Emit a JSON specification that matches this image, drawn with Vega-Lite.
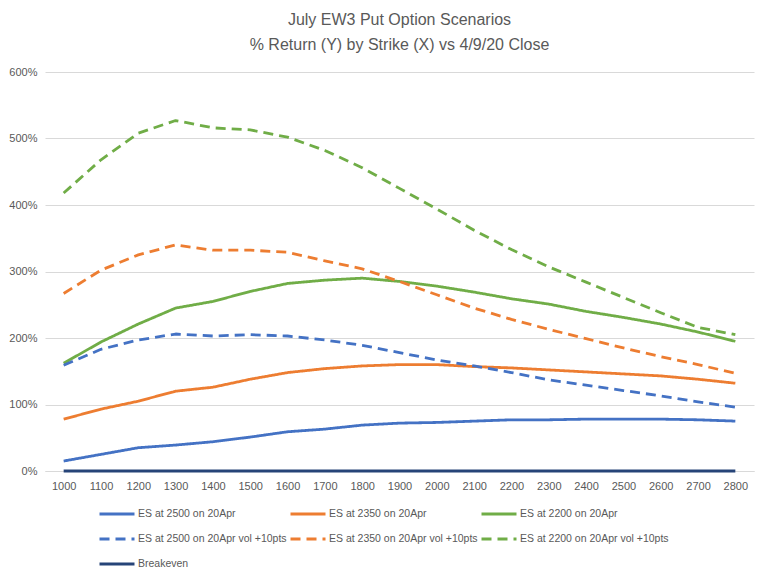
{
  "$schema": "https://vega.github.io/schema/vega-lite/v6.json",
  "width": 709,
  "height": 399,
  "autosize": {"type": "none"},
  "padding": {"left": 45, "top": 72, "right": 14, "bottom": 105},
  "background": "white",
  "title": {
    "text": ["July EW3 Put Option Scenarios", "% Return (Y) by Strike (X) vs 4/9/20 Close"],
    "font": "Liberation Sans",
    "fontSize": 16,
    "fontWeight": "normal",
    "color": "#595959",
    "anchor": "middle",
    "offset": 13,
    "lineHeight": 25
  },
  "data": {
    "values": [
      {"x": 1000, "s": "ES at 2500 on 20Apr", "y": 15},
      {"x": 1100, "s": "ES at 2500 on 20Apr", "y": 25},
      {"x": 1200, "s": "ES at 2500 on 20Apr", "y": 35},
      {"x": 1300, "s": "ES at 2500 on 20Apr", "y": 39},
      {"x": 1400, "s": "ES at 2500 on 20Apr", "y": 44},
      {"x": 1500, "s": "ES at 2500 on 20Apr", "y": 51},
      {"x": 1600, "s": "ES at 2500 on 20Apr", "y": 59},
      {"x": 1700, "s": "ES at 2500 on 20Apr", "y": 63},
      {"x": 1800, "s": "ES at 2500 on 20Apr", "y": 69},
      {"x": 1900, "s": "ES at 2500 on 20Apr", "y": 72},
      {"x": 2000, "s": "ES at 2500 on 20Apr", "y": 73},
      {"x": 2100, "s": "ES at 2500 on 20Apr", "y": 75},
      {"x": 2200, "s": "ES at 2500 on 20Apr", "y": 77},
      {"x": 2300, "s": "ES at 2500 on 20Apr", "y": 77},
      {"x": 2400, "s": "ES at 2500 on 20Apr", "y": 78},
      {"x": 2500, "s": "ES at 2500 on 20Apr", "y": 78},
      {"x": 2600, "s": "ES at 2500 on 20Apr", "y": 78},
      {"x": 2700, "s": "ES at 2500 on 20Apr", "y": 77},
      {"x": 2800, "s": "ES at 2500 on 20Apr", "y": 75},

      {"x": 1000, "s": "ES at 2350 on 20Apr", "y": 78},
      {"x": 1100, "s": "ES at 2350 on 20Apr", "y": 93},
      {"x": 1200, "s": "ES at 2350 on 20Apr", "y": 105},
      {"x": 1300, "s": "ES at 2350 on 20Apr", "y": 120},
      {"x": 1400, "s": "ES at 2350 on 20Apr", "y": 126},
      {"x": 1500, "s": "ES at 2350 on 20Apr", "y": 138},
      {"x": 1600, "s": "ES at 2350 on 20Apr", "y": 148},
      {"x": 1700, "s": "ES at 2350 on 20Apr", "y": 154},
      {"x": 1800, "s": "ES at 2350 on 20Apr", "y": 158},
      {"x": 1900, "s": "ES at 2350 on 20Apr", "y": 160},
      {"x": 2000, "s": "ES at 2350 on 20Apr", "y": 160},
      {"x": 2100, "s": "ES at 2350 on 20Apr", "y": 157},
      {"x": 2200, "s": "ES at 2350 on 20Apr", "y": 155},
      {"x": 2300, "s": "ES at 2350 on 20Apr", "y": 152},
      {"x": 2400, "s": "ES at 2350 on 20Apr", "y": 149},
      {"x": 2500, "s": "ES at 2350 on 20Apr", "y": 146},
      {"x": 2600, "s": "ES at 2350 on 20Apr", "y": 143},
      {"x": 2700, "s": "ES at 2350 on 20Apr", "y": 138},
      {"x": 2800, "s": "ES at 2350 on 20Apr", "y": 132},

      {"x": 1000, "s": "ES at 2200 on 20Apr", "y": 162},
      {"x": 1100, "s": "ES at 2200 on 20Apr", "y": 194},
      {"x": 1200, "s": "ES at 2200 on 20Apr", "y": 221},
      {"x": 1300, "s": "ES at 2200 on 20Apr", "y": 245},
      {"x": 1400, "s": "ES at 2200 on 20Apr", "y": 255},
      {"x": 1500, "s": "ES at 2200 on 20Apr", "y": 270},
      {"x": 1600, "s": "ES at 2200 on 20Apr", "y": 282},
      {"x": 1700, "s": "ES at 2200 on 20Apr", "y": 287},
      {"x": 1800, "s": "ES at 2200 on 20Apr", "y": 290},
      {"x": 1900, "s": "ES at 2200 on 20Apr", "y": 285},
      {"x": 2000, "s": "ES at 2200 on 20Apr", "y": 278},
      {"x": 2100, "s": "ES at 2200 on 20Apr", "y": 269},
      {"x": 2200, "s": "ES at 2200 on 20Apr", "y": 259},
      {"x": 2300, "s": "ES at 2200 on 20Apr", "y": 251},
      {"x": 2400, "s": "ES at 2200 on 20Apr", "y": 240},
      {"x": 2500, "s": "ES at 2200 on 20Apr", "y": 231},
      {"x": 2600, "s": "ES at 2200 on 20Apr", "y": 221},
      {"x": 2700, "s": "ES at 2200 on 20Apr", "y": 209},
      {"x": 2800, "s": "ES at 2200 on 20Apr", "y": 195},

      {"x": 1000, "s": "ES at 2500 on 20Apr vol +10pts", "y": 159},
      {"x": 1100, "s": "ES at 2500 on 20Apr vol +10pts", "y": 183},
      {"x": 1200, "s": "ES at 2500 on 20Apr vol +10pts", "y": 197},
      {"x": 1300, "s": "ES at 2500 on 20Apr vol +10pts", "y": 206},
      {"x": 1400, "s": "ES at 2500 on 20Apr vol +10pts", "y": 203},
      {"x": 1500, "s": "ES at 2500 on 20Apr vol +10pts", "y": 205},
      {"x": 1600, "s": "ES at 2500 on 20Apr vol +10pts", "y": 203},
      {"x": 1700, "s": "ES at 2500 on 20Apr vol +10pts", "y": 197},
      {"x": 1800, "s": "ES at 2500 on 20Apr vol +10pts", "y": 189},
      {"x": 1900, "s": "ES at 2500 on 20Apr vol +10pts", "y": 178},
      {"x": 2000, "s": "ES at 2500 on 20Apr vol +10pts", "y": 167},
      {"x": 2100, "s": "ES at 2500 on 20Apr vol +10pts", "y": 158},
      {"x": 2200, "s": "ES at 2500 on 20Apr vol +10pts", "y": 148},
      {"x": 2300, "s": "ES at 2500 on 20Apr vol +10pts", "y": 137},
      {"x": 2400, "s": "ES at 2500 on 20Apr vol +10pts", "y": 129},
      {"x": 2500, "s": "ES at 2500 on 20Apr vol +10pts", "y": 121},
      {"x": 2600, "s": "ES at 2500 on 20Apr vol +10pts", "y": 113},
      {"x": 2700, "s": "ES at 2500 on 20Apr vol +10pts", "y": 104},
      {"x": 2800, "s": "ES at 2500 on 20Apr vol +10pts", "y": 96},

      {"x": 1000, "s": "ES at 2350 on 20Apr vol +10pts", "y": 267},
      {"x": 1100, "s": "ES at 2350 on 20Apr vol +10pts", "y": 302},
      {"x": 1200, "s": "ES at 2350 on 20Apr vol +10pts", "y": 325},
      {"x": 1300, "s": "ES at 2350 on 20Apr vol +10pts", "y": 340},
      {"x": 1400, "s": "ES at 2350 on 20Apr vol +10pts", "y": 332},
      {"x": 1500, "s": "ES at 2350 on 20Apr vol +10pts", "y": 332},
      {"x": 1600, "s": "ES at 2350 on 20Apr vol +10pts", "y": 329},
      {"x": 1700, "s": "ES at 2350 on 20Apr vol +10pts", "y": 316},
      {"x": 1800, "s": "ES at 2350 on 20Apr vol +10pts", "y": 304},
      {"x": 1900, "s": "ES at 2350 on 20Apr vol +10pts", "y": 285},
      {"x": 2000, "s": "ES at 2350 on 20Apr vol +10pts", "y": 265},
      {"x": 2100, "s": "ES at 2350 on 20Apr vol +10pts", "y": 245},
      {"x": 2200, "s": "ES at 2350 on 20Apr vol +10pts", "y": 228},
      {"x": 2300, "s": "ES at 2350 on 20Apr vol +10pts", "y": 213},
      {"x": 2400, "s": "ES at 2350 on 20Apr vol +10pts", "y": 199},
      {"x": 2500, "s": "ES at 2350 on 20Apr vol +10pts", "y": 185},
      {"x": 2600, "s": "ES at 2350 on 20Apr vol +10pts", "y": 172},
      {"x": 2700, "s": "ES at 2350 on 20Apr vol +10pts", "y": 160},
      {"x": 2800, "s": "ES at 2350 on 20Apr vol +10pts", "y": 147},

      {"x": 1000, "s": "ES at 2200 on 20Apr vol +10pts", "y": 418},
      {"x": 1100, "s": "ES at 2200 on 20Apr vol +10pts", "y": 468},
      {"x": 1200, "s": "ES at 2200 on 20Apr vol +10pts", "y": 508},
      {"x": 1300, "s": "ES at 2200 on 20Apr vol +10pts", "y": 527},
      {"x": 1400, "s": "ES at 2200 on 20Apr vol +10pts", "y": 516},
      {"x": 1500, "s": "ES at 2200 on 20Apr vol +10pts", "y": 513},
      {"x": 1600, "s": "ES at 2200 on 20Apr vol +10pts", "y": 502},
      {"x": 1700, "s": "ES at 2200 on 20Apr vol +10pts", "y": 482},
      {"x": 1800, "s": "ES at 2200 on 20Apr vol +10pts", "y": 456},
      {"x": 1900, "s": "ES at 2200 on 20Apr vol +10pts", "y": 425},
      {"x": 2000, "s": "ES at 2200 on 20Apr vol +10pts", "y": 394},
      {"x": 2100, "s": "ES at 2200 on 20Apr vol +10pts", "y": 362},
      {"x": 2200, "s": "ES at 2200 on 20Apr vol +10pts", "y": 333},
      {"x": 2300, "s": "ES at 2200 on 20Apr vol +10pts", "y": 307},
      {"x": 2400, "s": "ES at 2200 on 20Apr vol +10pts", "y": 284},
      {"x": 2500, "s": "ES at 2200 on 20Apr vol +10pts", "y": 261},
      {"x": 2600, "s": "ES at 2200 on 20Apr vol +10pts", "y": 238},
      {"x": 2700, "s": "ES at 2200 on 20Apr vol +10pts", "y": 216},
      {"x": 2800, "s": "ES at 2200 on 20Apr vol +10pts", "y": 205},

      {"x": 1000, "s": "Breakeven", "y": 0},
      {"x": 1100, "s": "Breakeven", "y": 0},
      {"x": 1200, "s": "Breakeven", "y": 0},
      {"x": 1300, "s": "Breakeven", "y": 0},
      {"x": 1400, "s": "Breakeven", "y": 0},
      {"x": 1500, "s": "Breakeven", "y": 0},
      {"x": 1600, "s": "Breakeven", "y": 0},
      {"x": 1700, "s": "Breakeven", "y": 0},
      {"x": 1800, "s": "Breakeven", "y": 0},
      {"x": 1900, "s": "Breakeven", "y": 0},
      {"x": 2000, "s": "Breakeven", "y": 0},
      {"x": 2100, "s": "Breakeven", "y": 0},
      {"x": 2200, "s": "Breakeven", "y": 0},
      {"x": 2300, "s": "Breakeven", "y": 0},
      {"x": 2400, "s": "Breakeven", "y": 0},
      {"x": 2500, "s": "Breakeven", "y": 0},
      {"x": 2600, "s": "Breakeven", "y": 0},
      {"x": 2700, "s": "Breakeven", "y": 0},
      {"x": 2800, "s": "Breakeven", "y": 0}
    ]
  },
  "mark": {"type": "line", "strokeWidth": 2.8, "interpolate": "linear", "strokeJoin": "round"},
  "encoding": {
    "x": {
      "field": "x",
      "type": "ordinal",
      "sort": "ascending",
      "scale": {"type": "point", "padding": 0.5},
      "axis": {
        "title": null,
        "labelAngle": 0,
        "labelFont": "Liberation Sans",
        "labelFontSize": 11,
        "labelColor": "#595959",
        "labelPadding": 9,
        "ticks": false,
        "domain": true,
        "domainColor": "#d9d9d9",
        "grid": false
      }
    },
    "y": {
      "field": "y",
      "type": "quantitative",
      "scale": {"domain": [0, 600], "nice": false},
      "axis": {
        "title": null,
        "values": [0, 100, 200, 300, 400, 500, 600],
        "labelExpr": "datum.value + '%'",
        "labelFont": "Liberation Sans",
        "labelFontSize": 11,
        "labelColor": "#595959",
        "labelPadding": 8,
        "ticks": false,
        "domain": false,
        "grid": true,
        "gridColor": "#d9d9d9",
        "gridWidth": 1
      }
    },
    "color": {
      "field": "s",
      "type": "nominal",
      "scale": {
        "domain": ["ES at 2500 on 20Apr", "ES at 2350 on 20Apr", "ES at 2200 on 20Apr", "ES at 2500 on 20Apr vol +10pts", "ES at 2350 on 20Apr vol +10pts", "ES at 2200 on 20Apr vol +10pts", "Breakeven"],
        "range": ["#4472C4", "#ED7D31", "#70AD47", "#4472C4", "#ED7D31", "#70AD47", "#264478"]
      },
      "legend": {"title": null}
    },
    "strokeDash": {
      "field": "s",
      "type": "nominal",
      "scale": {
        "domain": ["ES at 2500 on 20Apr", "ES at 2350 on 20Apr", "ES at 2200 on 20Apr", "ES at 2500 on 20Apr vol +10pts", "ES at 2350 on 20Apr vol +10pts", "ES at 2200 on 20Apr vol +10pts", "Breakeven"],
        "range": [[1, 0], [1, 0], [1, 0], [10, 6], [10, 6], [10, 6], [1, 0]]
      },
      "legend": {"title": null}
    }
  },
  "config": {
    "view": {"stroke": null},
    "legend": {
      "orient": "none",
      "legendX": 53,
      "legendY": 423,
      "direction": "horizontal",
      "columns": 3,
      "symbolType": "stroke",
      "symbolSize": 1225,
      "symbolStrokeWidth": 3,
      "labelFont": "Liberation Sans",
      "labelFontSize": 10.5,
      "labelColor": "#595959",
      "labelOffset": 2,
      "labelLimit": 300,
      "rowPadding": -17,
      "columnPadding": -3,
      "gridAlign": "all"
    }
  }
}
